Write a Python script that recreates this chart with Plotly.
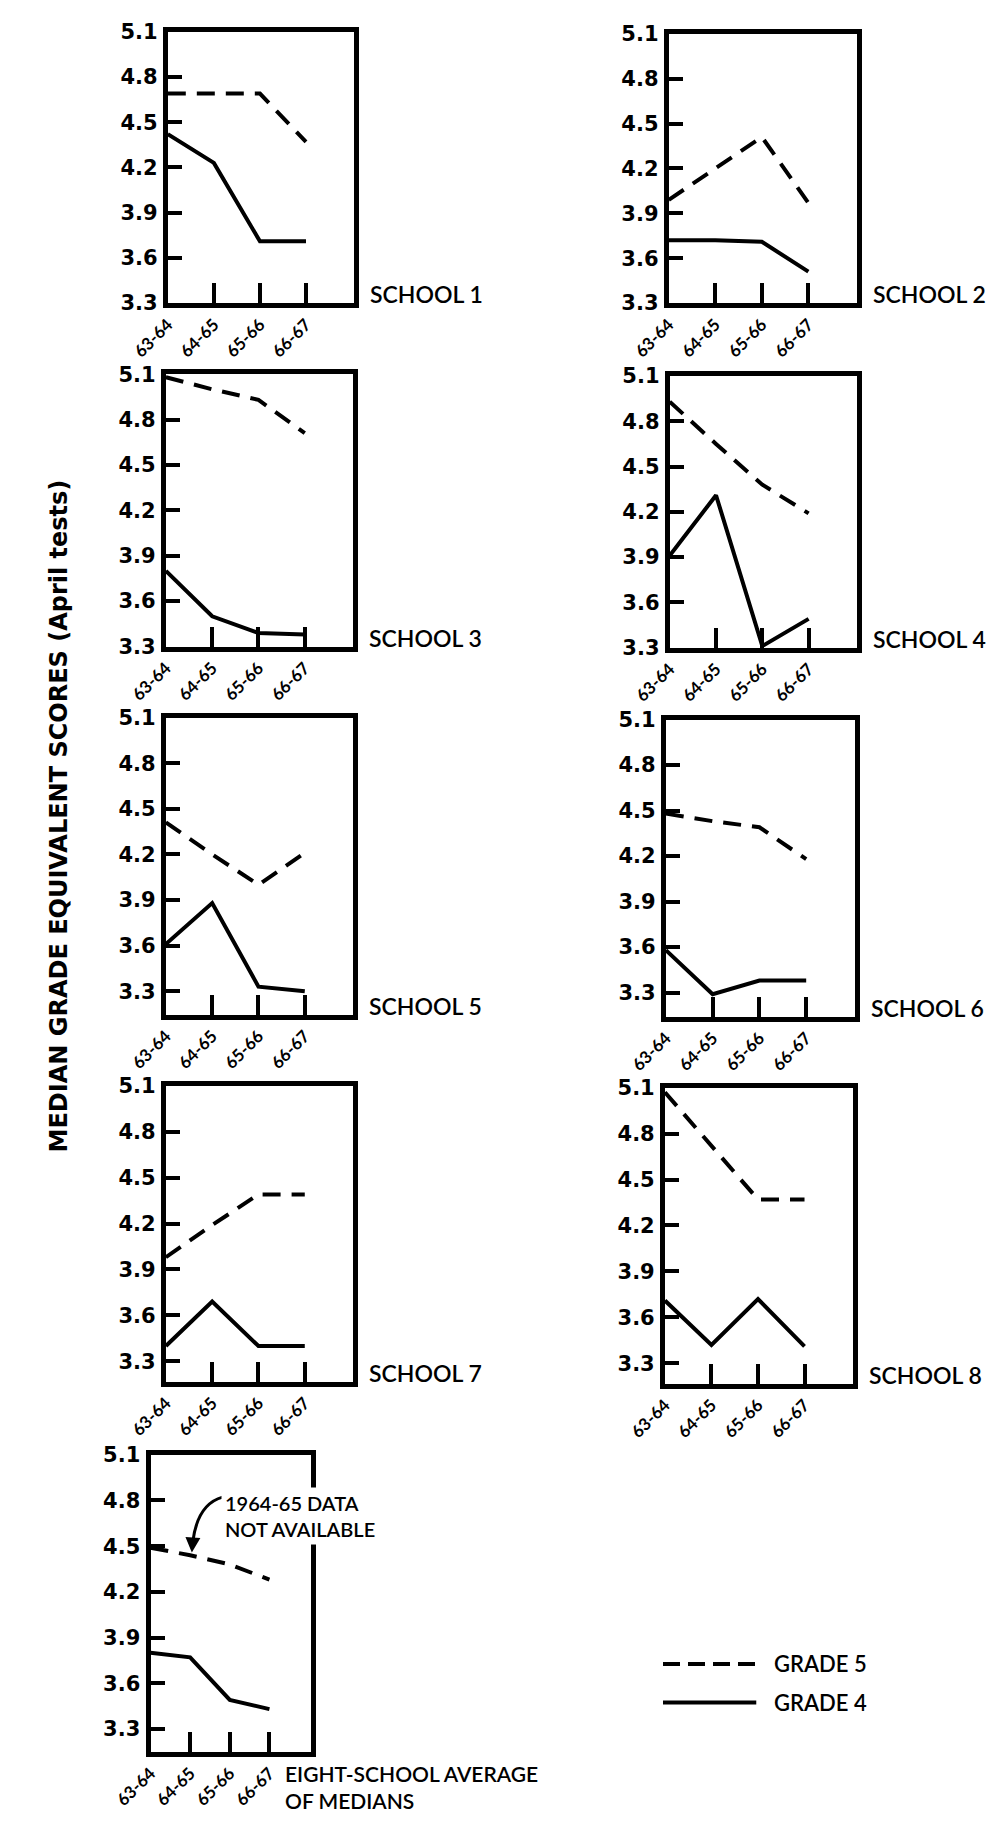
import plotly.graph_objects as go

W, H = 988, 1822

years = ["63-64", "64-65", "65-66", "66-67"]
panel_names = ["SCHOOL 1", "SCHOOL 2", "SCHOOL 3", "SCHOOL 4", "SCHOOL 5",
               "SCHOOL 6", "SCHOOL 7", "SCHOOL 8",
               "EIGHT-SCHOOL AVERAGE<br>OF MEDIANS"]
y_ticks = [3.3, 3.6, 3.9, 4.2, 4.5, 4.8, 5.1]
y_tick_text = ["3.3", "3.6", "3.9", "4.2", "4.5", "4.8", "5.1"]

grade5_s1 = [4.69, 4.69, 4.69, 4.37]
grade5_s2 = [3.99, 4.20, 4.41, 3.97]
grade5_s3 = [5.08, 5.00, 4.93, 4.71]
grade5_s4 = [4.93, 4.65, 4.38, 4.19]
grade5_s5 = [4.41, 4.20, 4.00, 4.21]
grade5_s6 = [4.48, 4.43, 4.39, 4.18]
grade5_s7 = [3.98, 4.19, 4.39, 4.39]
grade5_s8 = [5.07, 4.72, 4.37, 4.37]
grade5_avg = [4.49, 4.44, 4.38, 4.28]

grade4_s1 = [4.42, 4.23, 3.71, 3.71]
grade4_s2 = [3.72, 3.72, 3.71, 3.51]
grade4_s3 = [3.80, 3.50, 3.39, 3.38]
grade4_s4 = [3.91, 4.31, 3.31, 3.49]
grade4_s5 = [3.61, 3.88, 3.33, 3.30]
grade4_s6 = [3.58, 3.29, 3.38, 3.38]
grade4_s7 = [3.40, 3.69, 3.40, 3.40]
grade4_s8 = [3.71, 3.42, 3.72, 3.41]
grade4_avg = [3.80, 3.77, 3.49, 3.43]

grade5 = [grade5_s1, grade5_s2, grade5_s3, grade5_s4, grade5_s5,
          grade5_s6, grade5_s7, grade5_s8, grade5_avg]
grade4 = [grade4_s1, grade4_s2, grade4_s3, grade4_s4, grade4_s5,
          grade4_s6, grade4_s7, grade4_s8, grade4_avg]

# layout: (left, right, top, bottom) in pixels, y-axis lower bound
boxes = [
    (135, 329, 20, 295, 3.3),
    (656, 852, 22, 295, 3.3),
    (133, 328, 367, 643, 3.3),
    (657, 852, 369, 644, 3.3),
    (133, 328, 715, 1016, 3.146),
    (653, 850, 717, 1018, 3.142),
    (133, 328, 1088, 1388, 3.167),
    (652, 848, 1090, 1390, 3.167),
    (117, 284, 1462, 1763, 3.15),
]

FONT = "Lato"
NUMFONT = "DejaVu Sans"


def px(x):
    return x / W


def py(y):
    return 1 - y / H


fig = go.Figure()
annotations = []
shapes = []

for i, (l, r, t, b, ylo) in enumerate(boxes):
    n = i + 1
    xa = "xaxis" if n == 1 else f"xaxis{n}"
    ya = "yaxis" if n == 1 else f"yaxis{n}"
    xr = "x" if n == 1 else f"x{n}"
    yr = "y" if n == 1 else f"y{n}"
    xidx = list(range(len(years)))
    fig.add_trace(go.Scatter(x=xidx, y=grade5[i], mode="lines",
                             line=dict(color="black", width=4, dash="18px,11px"),
                             xaxis=xr, yaxis=yr, showlegend=False,
                             name="GRADE 5"))
    fig.add_trace(go.Scatter(x=xidx, y=grade4[i], mode="lines",
                             line=dict(color="black", width=4),
                             xaxis=xr, yaxis=yr, showlegend=False,
                             name="GRADE 4"))
    fig.layout[xa] = dict(
        domain=[px(l), px(r)], anchor=yr, range=[0, 4.05],
        tickvals=xidx, ticktext=years, tickangle=-45,
        ticks="inside", ticklen=20, tickwidth=4, tickcolor="black",
        showline=True, linewidth=5, linecolor="black", mirror=True,
        showgrid=False, zeroline=False, fixedrange=True,
        tickfont=dict(family=FONT, size=17, color="black", weight="bold"),
    )
    fig.layout[ya] = dict(
        domain=[py(b), py(t)], anchor=xr, range=[ylo, 5.1],
        tickvals=y_ticks, ticktext=y_tick_text,
        ticks="inside", ticklen=14, tickwidth=4, tickcolor="black",
        showline=True, linewidth=5, linecolor="black", mirror=True,
        showgrid=False, zeroline=False, fixedrange=True,
        tickfont=dict(family=NUMFONT, size=21, color="black", weight="bold"),
        ticklabelstandoff=1,
    )
    if n < 9:
        annotations.append(dict(
            x=px(r + 14), y=py(b - 9), xref="paper", yref="paper",
            xanchor="left", yanchor="middle", showarrow=False,
            text=panel_names[i],
            font=dict(family=FONT, size=23, color="black", weight=600)))
    else:
        annotations.append(dict(
            x=px(255), y=py(1770), xref="paper", yref="paper",
            xanchor="left", yanchor="top", showarrow=False, align="left",
            text=panel_names[i],
            font=dict(family=FONT, size=21, color="black", weight=600)))

# note on average panel
annotations.append(dict(
    x=px(190), y=py(1524), xref="paper", yref="paper",
    xanchor="left", yanchor="middle", showarrow=False, align="left",
    text="1964-65 DATA<br>NOT AVAILABLE", bgcolor="white", borderpad=3,
    font=dict(family=FONT, size=20, color="black", weight=600)))
shapes.append(dict(
    type="path", xref="paper", yref="paper",
    path=f"M {px(192)},{py(1505)} Q {px(166)},{py(1512)} {px(161)},{py(1550)}",
    line=dict(color="black", width=3)))
annotations.append(dict(
    x=px(160), y=py(1561), xref="paper", yref="paper",
    ax=1, ay=-14, axref="pixel", ayref="pixel",
    showarrow=True, arrowhead=2, arrowsize=1, arrowwidth=3,
    arrowcolor="black", text=""))

# y-axis title
annotations.append(dict(
    x=px(22), y=py(815), xref="paper", yref="paper",
    xanchor="center", yanchor="middle", showarrow=False, textangle=-90,
    text="MEDIAN GRADE EQUIVALENT SCORES (April tests)",
    font=dict(family=NUMFONT, size=24, color="black", weight="bold")))

# legend
shapes.append(dict(type="line", xref="paper", yref="paper",
                   x0=px(650), x1=px(747), y0=py(1674), y1=py(1674),
                   line=dict(color="black", width=4, dash="17px,8px")))
shapes.append(dict(type="line", xref="paper", yref="paper",
                   x0=px(650), x1=px(747), y0=py(1713), y1=py(1713),
                   line=dict(color="black", width=4)))
annotations.append(dict(
    x=px(763), y=py(1674), xref="paper", yref="paper",
    xanchor="left", yanchor="middle", showarrow=False, text="GRADE 5",
    font=dict(family=FONT, size=22, color="black", weight=600)))
annotations.append(dict(
    x=px(763), y=py(1713), xref="paper", yref="paper",
    xanchor="left", yanchor="middle", showarrow=False, text="GRADE 4",
    font=dict(family=FONT, size=22, color="black", weight=600)))

fig.update_layout(
    width=W, height=H, margin=dict(l=0, r=0, t=0, b=0),
    paper_bgcolor="white", plot_bgcolor="white",
    annotations=annotations, shapes=shapes, showlegend=False,
    font=dict(family=FONT, color="black"),
)

fig.write_html("out.html")
